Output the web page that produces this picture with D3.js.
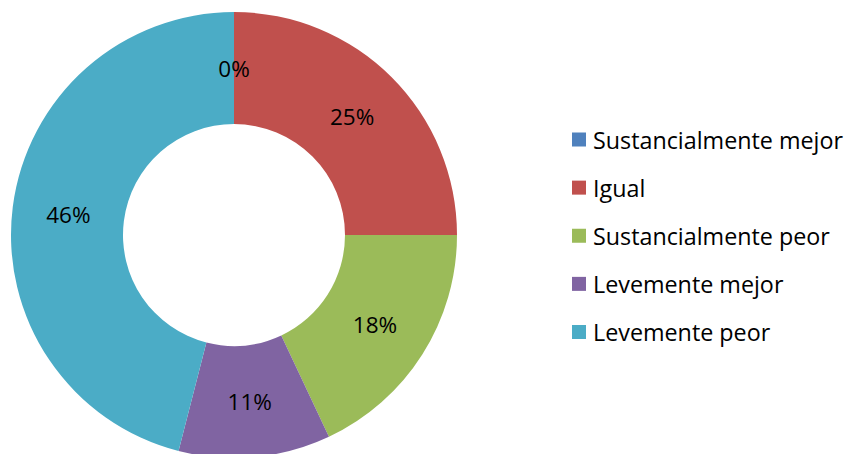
<!DOCTYPE html>
<html><head><meta charset="utf-8">
<script src="https://cdn.jsdelivr.net/npm/d3@7"></script>
<style>html,body{margin:0;padding:0;background:#fff;}</style>
</head><body>
<svg id="c" width="859" height="454"></svg>
<script>
const categories = ["Sustancialmente mejor","Igual","Sustancialmente peor","Levemente mejor","Levemente peor"];
const values = [0,25,18,11,46];
const labels = ["0%","25%","18%","11%","46%"];
const colors = ["#4F81BD","#C0504D","#9BBB59","#8064A2","#4BACC6"];

const svg = d3.select("#c");
const cx = 234, cy = 235, R = 223, r = 111;
const font = "'Open Sans', sans-serif";
const pie = d3.pie().value(d=>d).sort(null);
const arcs = pie(values);
const arc = d3.arc().innerRadius(r).outerRadius(R);
const g = svg.append("g").attr("transform",`translate(${cx},${cy})`);
g.selectAll("path").data(arcs).join("path")
  .attr("d",arc).attr("fill",(d,i)=>colors[i]);
g.selectAll("text").data(arcs).join("text")
  .attr("x",d=>arc.centroid(d)[0]).attr("y",d=>arc.centroid(d)[1])
  .attr("text-anchor","middle").attr("dominant-baseline","central")
  .attr("font-family",font).attr("font-size",22.5).attr("fill","#000")
  .text((d,i)=>labels[i]);

const ly = d3.scalePoint().domain(categories).range([139.5,332]);
const lg = svg.append("g");
categories.forEach((c,i)=>{
  lg.append("rect").attr("x",572).attr("y",ly(c)-7).attr("width",14).attr("height",14).attr("fill",colors[i]);
  lg.append("text").attr("x",593).attr("y",ly(c)).attr("dominant-baseline","central")
    .attr("font-family",font).attr("font-size",23.3).attr("fill","#000").text(c);
});
</script>
</body></html>
